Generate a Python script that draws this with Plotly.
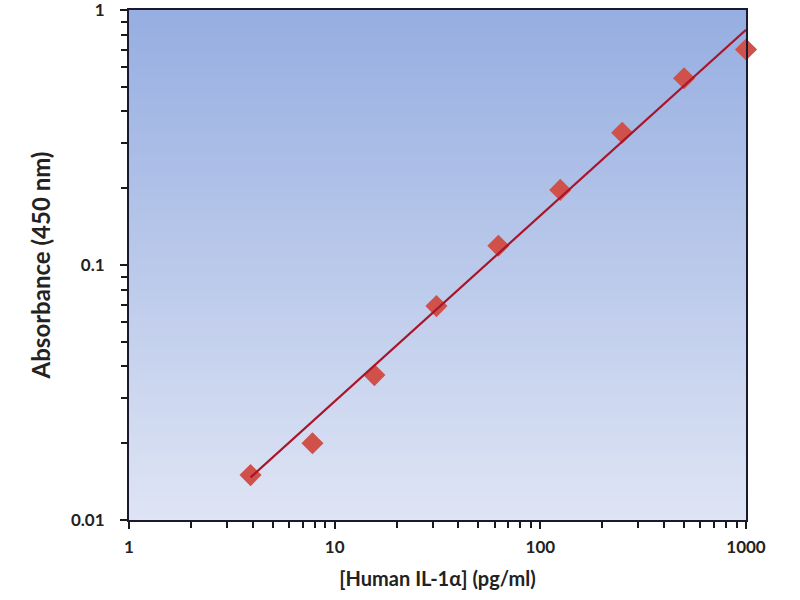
import plotly.graph_objects as go

# Data
concentration = [3.9, 7.8, 15.6, 31.25, 62.5, 125, 250, 500, 1000]
absorbance = [0.015, 0.020, 0.037, 0.069, 0.119, 0.197, 0.33, 0.54, 0.70]
fit_x = [3.9, 1000]
fit_y = [0.0147, 0.836]
x_tickvals = [1, 10, 100, 1000]
x_ticktext = ["1", "10", "100", "1000"]
y_tickvals = [0.01, 0.1, 1]
y_ticktext = ["0.01", "0.1", "1"]
x_minor = [m * d for d in [1, 10, 100] for m in range(2, 10)]
y_minor = [m * d for d in [0.01, 0.1] for m in range(2, 10)]

FONT = "Lato, 'Open Sans', sans-serif"

fig = go.Figure()

# vertical gradient background
top = (150, 174, 225)
bot = (222, 228, 244)
n = 80
shapes = []
for i in range(n):
    t = i / (n - 1)
    c = tuple(round(bot[k] + (top[k] - bot[k]) * t) for k in range(3))
    shapes.append(dict(type="rect", xref="paper", yref="paper",
                       x0=0, x1=1, y0=i / n, y1=(i + 1) / n + 0.002,
                       fillcolor="rgb(%d,%d,%d)" % c, line=dict(width=0),
                       layer="below"))

fig.add_trace(go.Scatter(
    x=concentration, y=absorbance, mode="markers",
    marker=dict(symbol="diamond", size=17, color="#D0504A",
                line=dict(width=0)),
    showlegend=False, hoverinfo="x+y", cliponaxis=False))

fig.add_trace(go.Scatter(
    x=fit_x, y=fit_y, mode="lines",
    line=dict(color="#A8162B", width=2.2),
    showlegend=False))

axis_common = dict(
    type="log", showgrid=False, zeroline=False, automargin=False,
    showline=True, linecolor="#1a1a2e", linewidth=2, mirror=True,
    ticks="outside", ticklen=7, tickwidth=1.5, tickcolor="#1a1a1a",
    ticklabeloverflow="allow",
    tickfont=dict(family=FONT, size=17, color="#222222", weight="bold"),
)

fig.update_layout(
    width=800, height=600,
    margin=dict(l=129, r=54, t=10, b=80),
    paper_bgcolor="white",
    plot_bgcolor="rgba(0,0,0,0)",
    shapes=shapes,
    xaxis=dict(axis_common, range=[0, 3], tickvals=x_tickvals,
               ticktext=x_ticktext, ticklabelstandoff=4,
               minor=dict(tickvals=x_minor, ticks="outside", ticklen=6,
                          tickwidth=1.5, tickcolor="#1a1a1a", showgrid=False),
               title=dict(text="[Human IL-1α] (pg/ml)", standoff=16,
                          font=dict(family=FONT, size=20, color="#222222",
                                    weight="bold"))),
    yaxis=dict(axis_common, range=[-2, 0], tickvals=y_tickvals,
               ticktext=y_ticktext, ticklabelstandoff=12,
               minor=dict(tickvals=y_minor, ticks="outside", ticklen=6,
                          tickwidth=1.5, tickcolor="#1a1a1a", showgrid=False),
               title=dict(text="Absorbance (450 nm)", standoff=14,
                          font=dict(family=FONT, size=24, color="#222222",
                                    weight="bold"))),
)

fig.write_html("out.html",
               config={"displayModeBar": False},
               post_script="document.body.style.margin='0';")
